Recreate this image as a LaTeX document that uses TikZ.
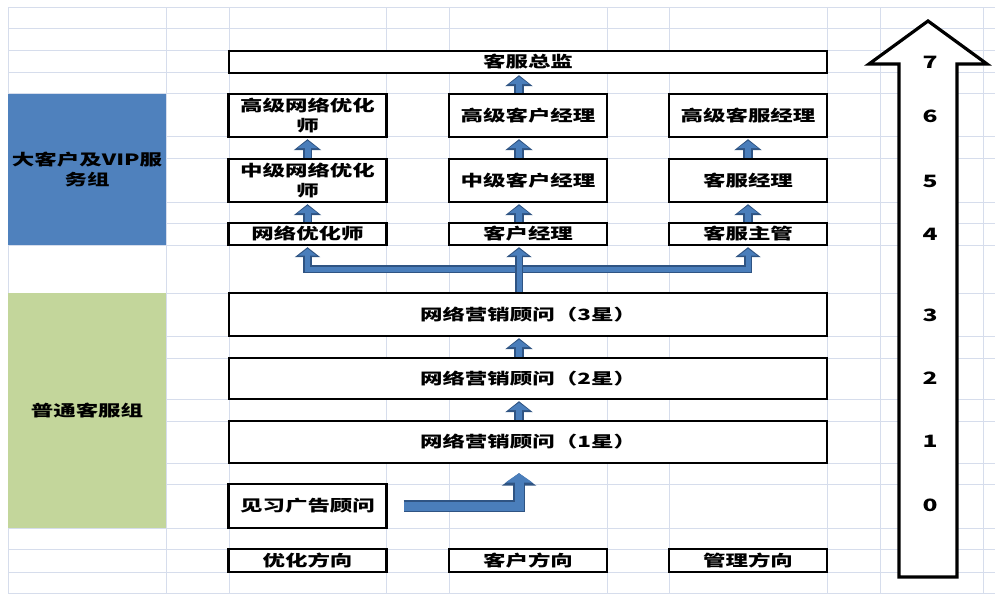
\documentclass[tikz,border=0pt]{standalone}
\usepackage{fontspec}
\newfontfamily\cjk[FakeStretch=1.45]{Noto Sans CJK SC}
\usetikzlibrary{arrows.meta}
\definecolor{gridc}{HTML}{D6DDEC}
\definecolor{vipblue}{HTML}{4F81BD}
\definecolor{normgreen}{HTML}{C3D69B}
\definecolor{arrin}{HTML}{4A7EBB}
\definecolor{arrout}{HTML}{2F5483}

\begin{document}
\begin{tikzpicture}[x=1pt, y=-1pt,
  box/.style = {draw, line width=2.4pt, fill=white, inner sep=0pt, align=center,
    font=\cjk\bfseries\fontsize{15.5}{20}\selectfont},
  wide/.style = {box, minimum width=598pt},
  narrow/.style = {box, minimum width=158pt},
  group/.style = {inner sep=0pt, minimum width=158pt, align=center,
    font=\cjk\bfseries\fontsize{15.5}{20}\selectfont},
  lvl/.style = {inner sep=0pt, font=\cjk\bfseries\fontsize{17}{18}\selectfont},
  upar/.style = {draw=arrin, line width=6pt, line join=miter, shorten >=2.5pt,
    -{Triangle[width=20pt,length=7.5pt]},
    preaction={draw=arrout, line width=9.5pt, shorten >=1pt,
      -{Triangle[width=27pt,length=11pt]}}},
  brup/.style = {draw=arrin, line width=5pt, line join=miter, shorten >=2.5pt,
    -{Triangle[width=18pt,length=7pt]},
    preaction={draw=arrout, line width=8.5pt, shorten >=1pt,
      -{Triangle[width=25pt,length=10pt]}}},
  bigup/.style = {draw=arrin, line width=9pt, line join=miter,
    -{Triangle[width=27pt,length=9.5pt]},
    preaction={draw=arrout, line width=12.5pt,
      -{Triangle[width=34pt,length=12.5pt]}}}]

\useasboundingbox (0,0) rectangle (995,596);

% grid of the sheet
\foreach \gx in {8,166,229,386,449,607,669,827,880,983}
  \draw[gridc, line width=1pt] (\gx,8) -- (\gx,593);
\foreach \gy in {8,29,51,73,94,137,159,202,223,245,293,336,358,399,421,463,484,528,549,572,593}
  \draw[gridc, line width=1pt] (8,\gy) -- (995,\gy);

% groups
\node[group, fill=vipblue, minimum height=151pt] (vip) at (87,169.5) {大客户及VIP服\\务组};
\node[group, fill=normgreen, minimum height=235pt] (ptz) at (87,410.5) {普通客服组};

% posts
\node[wide, minimum height=22pt] (zj) at (528,62) {客服总监};
\node[narrow, minimum height=43pt] (yh3) at (307.5,115.5) {高级网络优化\\师};
\node[narrow, minimum height=43pt] (kh3) at (528,115.5) {高级客户经理};
\node[narrow, minimum height=43pt] (gl3) at (748,115.5) {高级客服经理};
\node[narrow, minimum height=43pt] (yh2) at (307.5,180.5) {中级网络优化\\师};
\node[narrow, minimum height=43pt] (kh2) at (528,180.5) {中级客户经理};
\node[narrow, minimum height=43pt] (gl2) at (748,180.5) {客服经理};
\node[narrow, minimum height=22pt] (yh1) at (307.5,234) {网络优化师};
\node[narrow, minimum height=22pt] (kh1) at (528,234) {客户经理};
\node[narrow, minimum height=22pt] (gl1) at (748,234) {客服主管};
\node[wide, minimum height=43pt] (m3) at (528,314.5) {网络营销顾问（3星）};
\node[wide, minimum height=41pt] (m2) at (528,378.5) {网络营销顾问（2星）};
\node[wide, minimum height=42pt] (m1) at (528,442) {网络营销顾问（1星）};
\node[narrow, minimum height=44pt] (jx) at (307.5,506) {见习广告顾问};
\node[narrow, minimum height=23pt] (d1) at (307.5,560.5) {优化方向};
\node[narrow, minimum height=23pt] (d2) at (528,560.5) {客户方向};
\node[narrow, minimum height=23pt] (d3) at (748,560.5) {管理方向};

% level scale
\draw[line width=3.2pt, fill=white, line join=miter]
  (899,577) -- (899,64) -- (869,64) -- (928,21) -- (987,64) -- (957,64) -- (957,577) -- cycle;
\foreach \n/\ny in {7/62, 6/116, 5/181, 4/234, 3/315, 2/378, 1/441, 0/505}
  \node[lvl] (l\n) at (930,\ny) {\n};

% promotions
\coordinate (mid) at (519,0);
\coordinate (fork) at (519,269);
\draw[upar] (kh3.north -| mid) -- (zj.south -| mid);
\draw[upar] (kh2.north -| mid) -- (kh3.south -| mid);
\draw[upar] (kh1.north -| mid) -- (kh2.south -| mid);
\draw[upar] (yh2.north) -- (yh3.south);
\draw[upar] (yh1.north) -- (yh2.south);
\draw[upar] (gl2.north) -- (gl3.south);
\draw[upar] (gl1.north) -- (gl2.south);
\draw[upar] (m2.north -| mid) -- (m3.south -| mid);
\draw[upar] (m1.north -| mid) -- (m2.south -| mid);
\draw[brup] (fork) -| (yh1.south);
\draw[brup] (fork) -| (gl1.south);
\draw[brup] (m3.north -| mid) -- (kh1.south -| mid);
\draw[bigup, shorten >=9pt] ([xshift=16pt]jx.east) -| (m1.south -| mid);
\end{tikzpicture}
\end{document}
